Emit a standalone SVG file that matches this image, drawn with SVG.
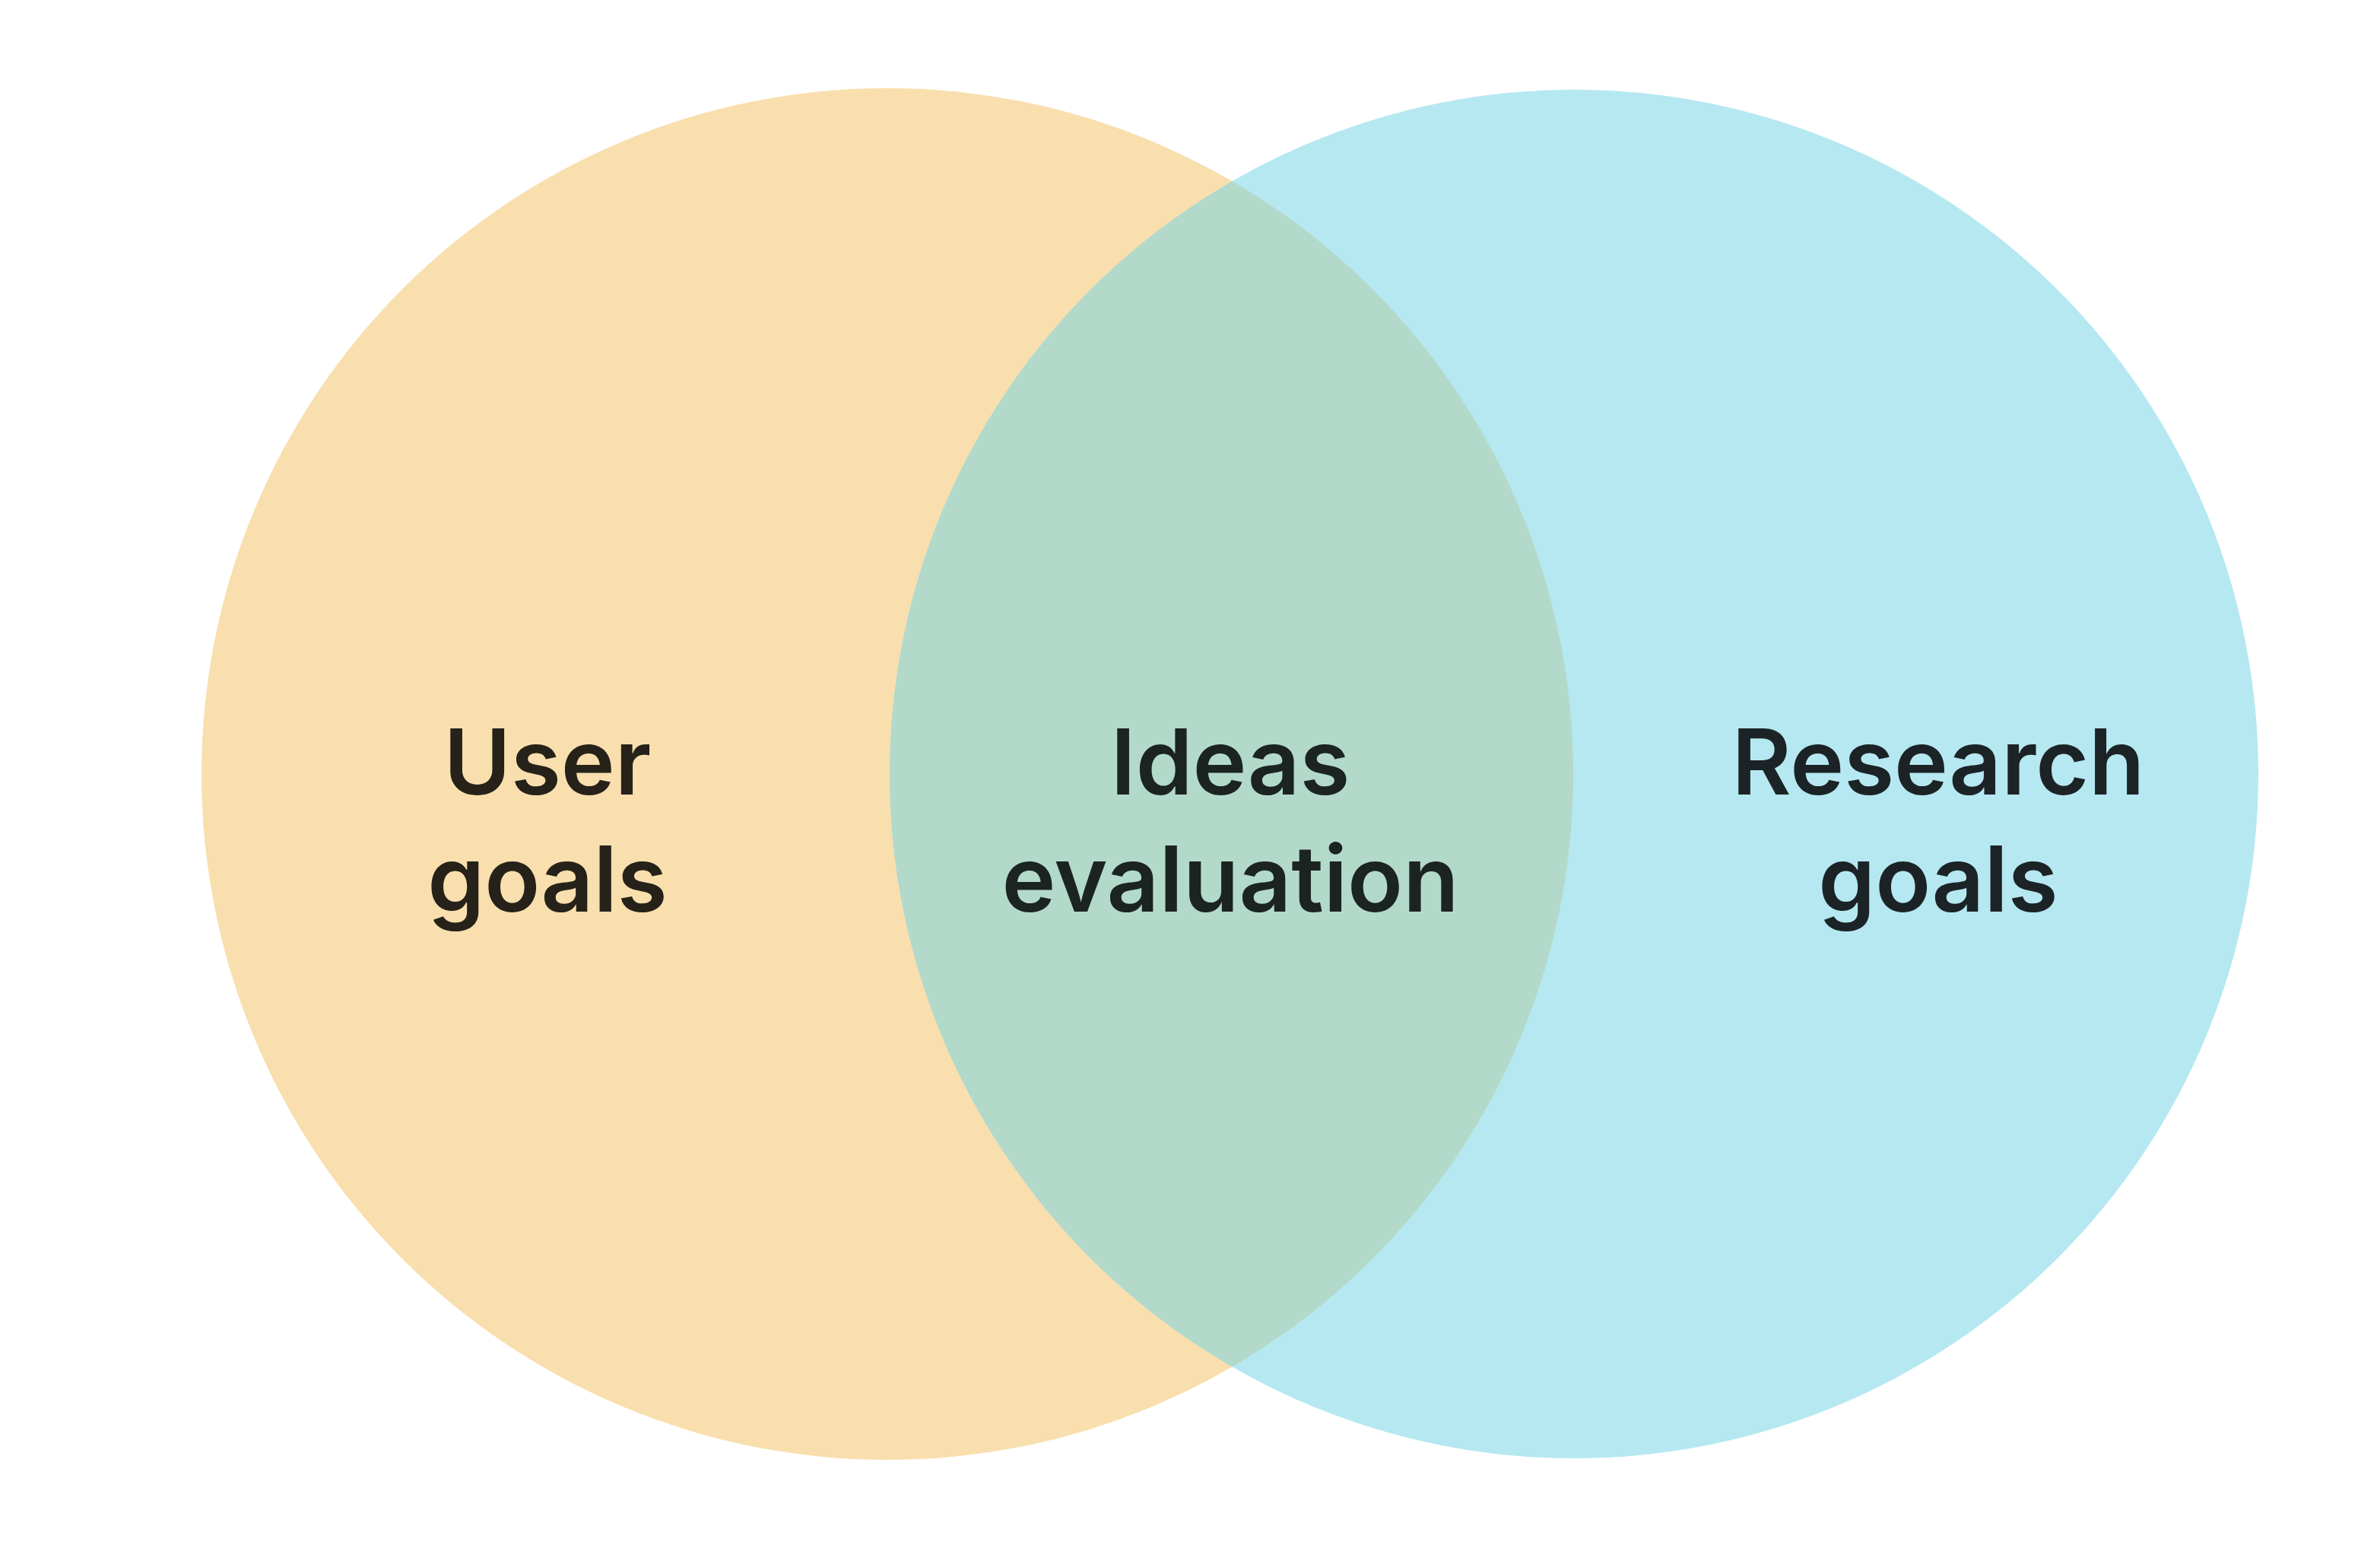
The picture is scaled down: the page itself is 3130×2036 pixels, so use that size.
<svg xmlns="http://www.w3.org/2000/svg" width="3130" height="2036" viewBox="0 0 3130 2036">
<style>
.lbl{font-family:Inter,Roboto,"Liberation Sans",sans-serif;font-size:120px;font-weight:600;text-anchor:middle;font-variant-ligatures:none}
</style>
<defs>
<clipPath id="leftClip"><circle cx="1167" cy="1018" r="902"/></clipPath>
</defs>
<rect width="3130" height="2036" fill="#ffffff"/>
<g id="user-goals">
<circle cx="1167" cy="1018" r="902" fill="#F9DFAE"/>
<text class="lbl" fill="#262219" x="720" y="1045">User</text>
<text class="lbl" fill="#262219" x="720" y="1199">goals</text>
</g>
<g id="research-goals">
<circle cx="2070" cy="1018" r="900" fill="#B6E8F1"/>
<text class="lbl" fill="#1C2326" x="2549" y="1045">Research</text>
<text class="lbl" fill="#1C2326" x="2549" y="1199">goals</text>
</g>
<g id="ideas-evaluation">
<circle cx="2070" cy="1018" r="900" fill="#B3D9CA" clip-path="url(#leftClip)"/>
<text class="lbl" fill="#1B2420" x="1618" y="1045">Ideas</text>
<text class="lbl" fill="#1B2420" x="1618" y="1199">evaluation</text>
</g>
<g id="connectors"></g>
</svg>
